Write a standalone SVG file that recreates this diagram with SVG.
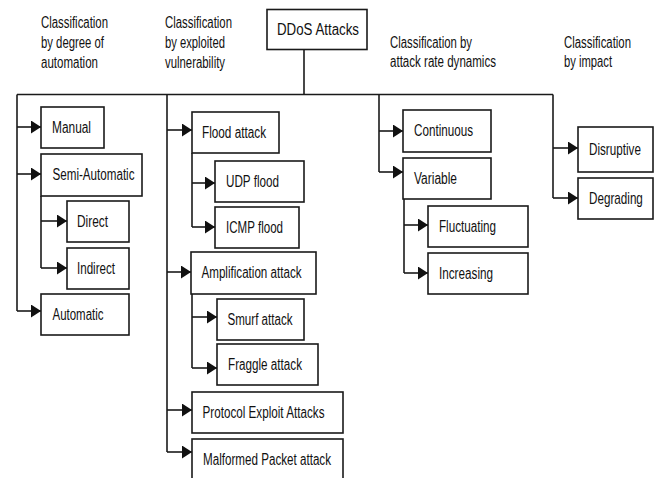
<svg xmlns="http://www.w3.org/2000/svg" width="657" height="478" viewBox="0 0 657 478">
  <defs>
    <marker id="arrow" markerUnits="userSpaceOnUse" markerWidth="11" markerHeight="14" refX="10" refY="6.5" orient="auto">
      <path d="M0,0 L10,6.5 L0,13 Z" fill="#111"/>
    </marker>
    <style>
      .box { fill: #fff; stroke: #1a1a1a; stroke-width: 1.6; }
      .lbl { font-family: "Liberation Sans", Arial, sans-serif; font-size: 16px; fill: #111; }
      .conn line, .conn polyline { stroke: #1a1a1a; stroke-width: 1.6; fill: none; }
      .arr { marker-end: url(#arrow); }
    </style>
  </defs>
  <rect width="657" height="478" fill="#fff"/>

  <!-- category headings -->
  <g id="heading-automation" class="lbl">
    <text x="41" y="28" textLength="67" lengthAdjust="spacingAndGlyphs">Classification</text>
    <text x="41" y="48" textLength="63" lengthAdjust="spacingAndGlyphs">by degree of</text>
    <text x="41" y="68" textLength="57" lengthAdjust="spacingAndGlyphs">automation</text>
  </g>
  <g id="heading-vulnerability" class="lbl">
    <text x="165" y="28" textLength="67" lengthAdjust="spacingAndGlyphs">Classification</text>
    <text x="165" y="48" textLength="60" lengthAdjust="spacingAndGlyphs">by exploited</text>
    <text x="165" y="68" textLength="60" lengthAdjust="spacingAndGlyphs">vulnerability</text>
  </g>
  <g id="heading-rate" class="lbl">
    <text x="390" y="48" textLength="82" lengthAdjust="spacingAndGlyphs">Classification by</text>
    <text x="390" y="67" textLength="106" lengthAdjust="spacingAndGlyphs">attack rate dynamics</text>
  </g>
  <g id="heading-impact" class="lbl">
    <text x="564" y="48" textLength="67" lengthAdjust="spacingAndGlyphs">Classification</text>
    <text x="564" y="67" textLength="48" lengthAdjust="spacingAndGlyphs">by impact</text>
  </g>

  <!-- connectors -->
  <g id="connectors" class="conn">
    <line x1="304" y1="49.5" x2="304" y2="94.5"/>
    <line x1="17" y1="94.5" x2="553" y2="94.5"/>
    <!-- automation branch -->
    <line x1="17" y1="94.5" x2="17" y2="311"/>
    <line class="arr" x1="17" y1="127" x2="41" y2="127"/>
    <line class="arr" x1="17" y1="174" x2="41" y2="174"/>
    <line class="arr" x1="17" y1="311" x2="41" y2="311"/>
    <line x1="41" y1="196" x2="41" y2="268"/>
    <line class="arr" x1="41" y1="221" x2="67" y2="221"/>
    <line class="arr" x1="41" y1="268" x2="67" y2="268"/>
    <!-- vulnerability branch -->
    <line x1="167" y1="94.5" x2="167" y2="452"/>
    <line class="arr" x1="167" y1="130" x2="192" y2="130"/>
    <line class="arr" x1="167" y1="272" x2="191" y2="272"/>
    <line class="arr" x1="167" y1="410" x2="192" y2="410"/>
    <line class="arr" x1="167" y1="452" x2="192" y2="452"/>
    <line x1="192" y1="153" x2="192" y2="227"/>
    <line class="arr" x1="192" y1="183" x2="215" y2="183"/>
    <line class="arr" x1="192" y1="227" x2="215" y2="227"/>
    <line x1="192" y1="294" x2="192" y2="368"/>
    <line class="arr" x1="192" y1="317" x2="217" y2="317"/>
    <line class="arr" x1="192" y1="368" x2="217" y2="368"/>
    <!-- rate dynamics branch -->
    <line x1="379" y1="94.5" x2="379" y2="172"/>
    <line class="arr" x1="379" y1="131" x2="403" y2="131"/>
    <line class="arr" x1="379" y1="172" x2="403" y2="172"/>
    <line x1="404" y1="199" x2="404" y2="273"/>
    <line class="arr" x1="404" y1="225" x2="428" y2="225"/>
    <line class="arr" x1="404" y1="273" x2="428" y2="273"/>
    <!-- impact branch -->
    <line x1="553" y1="94.5" x2="553" y2="198"/>
    <line class="arr" x1="553" y1="148" x2="578" y2="148"/>
    <line class="arr" x1="553" y1="198" x2="578" y2="198"/>
  </g>

  <!-- nodes -->
  <g id="ddos-attacks"><rect class="box" x="267" y="9.5" width="100" height="40"/><text class="lbl" x="277" y="34.5" textLength="82" lengthAdjust="spacingAndGlyphs">DDoS Attacks</text></g>

  <g id="manual"><rect class="box" x="41" y="107" width="63" height="41"/><text class="lbl" x="52" y="132.5" textLength="39" lengthAdjust="spacingAndGlyphs">Manual</text></g>
  <g id="semi-automatic"><rect class="box" x="41" y="154" width="101" height="42"/><text class="lbl" x="52.5" y="180" textLength="82" lengthAdjust="spacingAndGlyphs">Semi-Automatic</text></g>
  <g id="direct"><rect class="box" x="67" y="201" width="62" height="41"/><text class="lbl" x="77" y="226.5" textLength="31" lengthAdjust="spacingAndGlyphs">Direct</text></g>
  <g id="indirect"><rect class="box" x="67" y="248" width="62" height="41"/><text class="lbl" x="77" y="273.5" textLength="38" lengthAdjust="spacingAndGlyphs">Indirect</text></g>
  <g id="automatic"><rect class="box" x="41" y="294" width="88" height="41"/><text class="lbl" x="52.5" y="320" textLength="51" lengthAdjust="spacingAndGlyphs">Automatic</text></g>

  <g id="flood-attack"><rect class="box" x="192" y="112" width="87" height="41"/><text class="lbl" x="202" y="137.5" textLength="64" lengthAdjust="spacingAndGlyphs">Flood attack</text></g>
  <g id="udp-flood"><rect class="box" x="215" y="161" width="89" height="41"/><text class="lbl" x="226" y="187" textLength="53" lengthAdjust="spacingAndGlyphs">UDP flood</text></g>
  <g id="icmp-flood"><rect class="box" x="215" y="207" width="84" height="41"/><text class="lbl" x="226" y="232.5" textLength="57" lengthAdjust="spacingAndGlyphs">ICMP flood</text></g>
  <g id="amplification-attack"><rect class="box" x="191" y="252" width="125" height="42"/><text class="lbl" x="201.5" y="278" textLength="100" lengthAdjust="spacingAndGlyphs">Amplification attack</text></g>
  <g id="smurf-attack"><rect class="box" x="217" y="299" width="87" height="41"/><text class="lbl" x="227.5" y="324.5" textLength="65" lengthAdjust="spacingAndGlyphs">Smurf attack</text></g>
  <g id="fraggle-attack"><rect class="box" x="217" y="344" width="101" height="41"/><text class="lbl" x="228" y="369.5" textLength="74" lengthAdjust="spacingAndGlyphs">Fraggle attack</text></g>
  <g id="protocol-exploit-attacks"><rect class="box" x="192" y="392" width="151" height="41"/><text class="lbl" x="202.5" y="417.5" textLength="122" lengthAdjust="spacingAndGlyphs">Protocol Exploit Attacks</text></g>
  <g id="malformed-packet-attack"><rect class="box" x="192" y="439" width="151" height="44"/><text class="lbl" x="203" y="465" textLength="128" lengthAdjust="spacingAndGlyphs">Malformed Packet attack</text></g>

  <g id="continuous"><rect class="box" x="403" y="110" width="88" height="42"/><text class="lbl" x="414" y="136" textLength="59" lengthAdjust="spacingAndGlyphs">Continuous</text></g>
  <g id="variable"><rect class="box" x="403" y="158" width="88" height="41"/><text class="lbl" x="414" y="184" textLength="43" lengthAdjust="spacingAndGlyphs">Variable</text></g>
  <g id="fluctuating"><rect class="box" x="428" y="206" width="100" height="41"/><text class="lbl" x="439" y="231.5" textLength="57" lengthAdjust="spacingAndGlyphs">Fluctuating</text></g>
  <g id="increasing"><rect class="box" x="428" y="253" width="100" height="41"/><text class="lbl" x="439" y="278.5" textLength="54" lengthAdjust="spacingAndGlyphs">Increasing</text></g>

  <!-- narrow boxes near the right edge: labels condensed with a horizontal scale -->
  <g id="disruptive"><rect class="box" x="578" y="127" width="75" height="45"/><text class="lbl" transform="translate(589 154.5) scale(0.73 1)">Disruptive</text></g>
  <g id="degrading"><rect class="box" x="578" y="178" width="75" height="41"/><text class="lbl" transform="translate(589 203.5) scale(0.73 1)">Degrading</text></g>
</svg>
